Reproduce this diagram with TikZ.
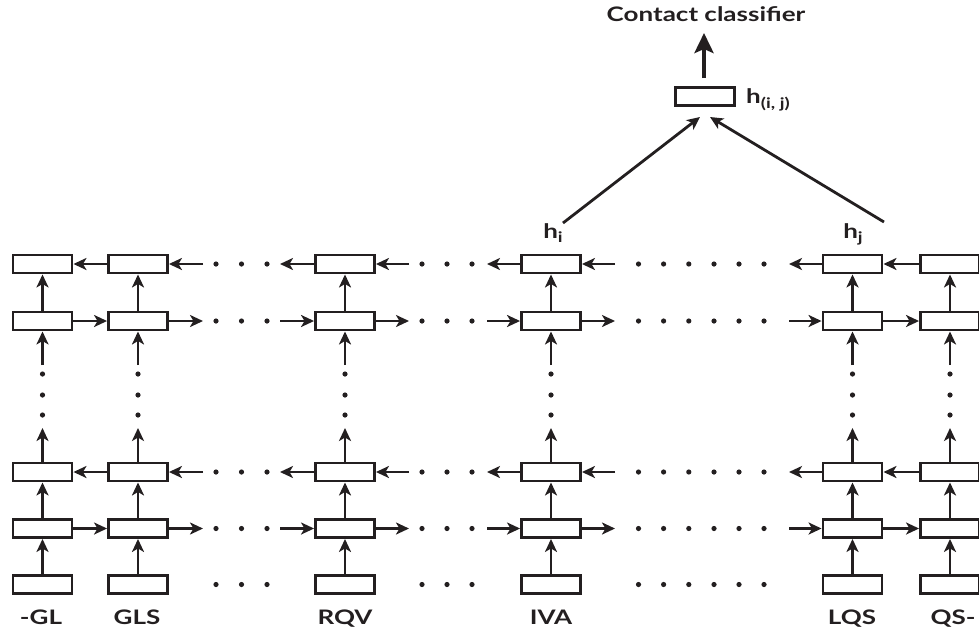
\documentclass[tikz,border=0pt]{standalone}
\usepackage{fontspec}
\setmainfont{Lato}[FakeStretch=1.3]
\usetikzlibrary{arrows.meta,calc}
\definecolor{ink}{RGB}{35,31,32}
\newcommand{\lowidx}[2][4.5pt]{\raisebox{-#1}{\fontsize{14.5}{14.5}\selectfont #2}}
\begin{document}
\begin{tikzpicture}[x=1pt,y=-1pt,
  cell/.style={draw=ink, line width=2.9pt, minimum width=59pt, minimum height=18pt,
               inner sep=0pt, outer sep=1.45pt},
  link/.style={draw=ink, line width=2.8pt, -{Stealth[length=13pt,width=12pt,inset=3.5pt]}},
  bigarrow/.style={draw=ink, line width=4.6pt, -{Stealth[length=20pt,width=19pt,inset=4pt]}},
  lbl/.style={text=ink, font=\fontsize{20}{20}\selectfont\bfseries, inner sep=0pt},
  dot/.style={fill=ink}]
\useasboundingbox (0,0) rectangle (979,633);
\clip (0,0) rectangle (979,633);

% grid of cells: column c, row r (0 = input row)
\foreach \c/\x in {1/42.5,2/138,3/345,4/551,5/852.5,6/950}{
  \foreach \r/\y in {0/584.5,1/264,2/321,3/472,4/528.5}{
    \node[cell] (b\c\r) at (\x,\y) {};
  }
  % vertical stack with a gap of dots between rows 3 and 2
  \coordinate (vu\c) at (\x,428);
  \coordinate (vd\c) at (\x,365);
  \draw[link] (b\c0) -- (b\c4);
  \draw[link] (b\c4) -- (b\c3);
  \draw[link] (b\c3) -- (vu\c);
  \draw[link] (vd\c) -- (b\c2);
  \draw[link] (b\c2) -- (b\c1);
  \foreach \y in {374,395,415} \fill[dot] (\x,\y) circle (2.6pt);
}

% direct horizontal links (rows 1,3 backward; rows 2,4 forward)
\foreach \a/\b in {1/2,5/6}{
  \draw[link] (b\b1) -- (b\a1);
  \draw[link] (b\a2) -- (b\b2);
  \draw[link] (b\b3) -- (b\a3);
  \draw[link] (b\a4) -- (b\b4);
}

% horizontal links interrupted by dots
\foreach \a/\b/\xl/\xr/\dots in {2/3/203/280/{216,241.5,267},
                                 3/4/409/487/{422,447,472},
                                 4/5/615/789/{638.5,663.6,688.8,714,739,764}}{
  \foreach \r/\y in {1/264,2/321,3/472,4/528.5}{
    \coordinate (gl\a\r) at (\xl,\y);
    \coordinate (gr\a\r) at (\xr,\y);
  }
  \draw[link] (gl\a1) -- (b\a1);
  \draw[link] (b\b1) -- (gr\a1);
  \draw[link] (b\a2) -- (gl\a2);
  \draw[link] (gr\a2) -- (b\b2);
  \draw[link] (gl\a3) -- (b\a3);
  \draw[link] (b\b3) -- (gr\a3);
  \draw[link] (b\a4) -- (gl\a4);
  \draw[link] (gr\a4) -- (b\b4);
  \foreach \d in \dots{
    \foreach \y in {264,321,472,528.5,584.5} \fill[dot] (\d,\y) circle (2.6pt);
  }
}

% sequence labels
\foreach \c/\x/\t in {1/41/-GL,2/137/GLS,3/345/RQV,4/551/IVA,5/852/LQS,6/953/QS-}{
  \node[lbl, anchor=base] (s\c) at (\x,624) {\t};
}

% pair representation and classifier
\node[lbl, anchor=base] (hi) at (553,238) {h\lowidx{i}};
\node[lbl, anchor=base] (hj) at (853,238) {h\lowidx{j}};
\node[cell] (hij) at (705,96.5) {};
\node[lbl, anchor=base west] (hijl) at (746,103) {h\lowidx[5pt]{(i, j)}};
\node[lbl, anchor=base] (cc) at (706,21) {Contact classifier};
\coordinate (ti) at (563,223);
\coordinate (tj) at (884,222);
\coordinate (ai) at (700,117);
\coordinate (aj) at (710,117);
\draw[link] (ti) -- (ai);
\draw[link] (tj) -- (aj);
\coordinate (cs) at (704,78);
\coordinate (ce) at (704,33);
\draw[bigarrow] (cs) -- (ce);
\end{tikzpicture}
\end{document}
